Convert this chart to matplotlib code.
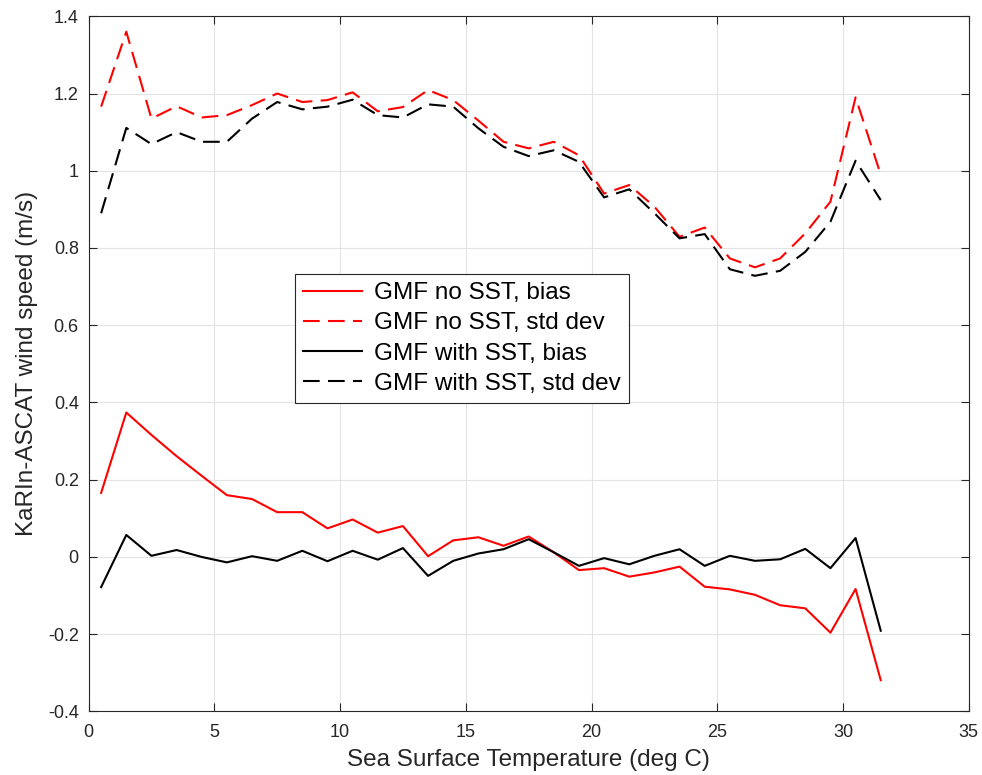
import numpy as np
import matplotlib
matplotlib.use("Agg")
import matplotlib.pyplot as plt

plt.rcParams['font.family'] = ['Liberation Sans', 'DejaVu Sans']

# SST bin centres (deg C)
sst = np.arange(0.5, 32.0, 1.0)

# GMF without SST term
bias_nosst = [0.166, 0.374, 0.316, 0.261, 0.210, 0.160, 0.150, 0.116, 0.116, 0.074,
              0.097, 0.063, 0.080, 0.002, 0.043, 0.051, 0.029, 0.053, 0.012, -0.034,
              -0.029, -0.051, -0.040, -0.025, -0.077, -0.084, -0.098, -0.125, -0.133,
              -0.196, -0.083, -0.319]
std_nosst = [1.166, 1.360, 1.135, 1.167, 1.138, 1.144, 1.170, 1.200, 1.178, 1.183,
             1.203, 1.154, 1.165, 1.209, 1.183, 1.130, 1.075, 1.058, 1.075, 1.040,
             0.941, 0.963, 0.907, 0.829, 0.853, 0.773, 0.750, 0.773, 0.838, 0.920,
             1.190, 0.990]

# GMF with SST term
bias_sst = [-0.078, 0.057, 0.003, 0.018, 0.000, -0.014, 0.002, -0.010, 0.016, -0.011,
            0.016, -0.007, 0.023, -0.049, -0.010, 0.009, 0.020, 0.046, 0.012, -0.023,
            -0.003, -0.019, 0.003, 0.020, -0.023, 0.003, -0.010, -0.006, 0.021,
            -0.029, 0.049, -0.191]
std_sst = [0.890, 1.111, 1.069, 1.100, 1.075, 1.075, 1.135, 1.178, 1.159, 1.166,
           1.184, 1.144, 1.138, 1.172, 1.166, 1.110, 1.062, 1.038, 1.053, 1.023,
           0.931, 0.952, 0.890, 0.825, 0.836, 0.745, 0.728, 0.741, 0.790, 0.868,
           1.026, 0.924]

fig = plt.figure(figsize=(9.82, 7.75), dpi=100)
ax = fig.add_axes([0.0902, 0.082, 0.8963, 0.897])

lw = 1.5
dash = (8, 4)
ax.plot(sst, bias_nosst, color='red', lw=lw, label='GMF no SST, bias')
ax.plot(sst, std_nosst, color='red', lw=lw, dashes=dash, label='GMF no SST, std dev')
ax.plot(sst, bias_sst, color='black', lw=lw, label='GMF with SST, bias')
ax.plot(sst, std_sst, color='black', lw=lw, dashes=dash, label='GMF with SST, std dev')

ax.set_xlim(0, 35)
ax.set_ylim(-0.4, 1.4)
ax.set_xticks(np.arange(0, 36, 5))
ax.set_yticks(np.arange(-0.4, 1.41, 0.2))
ax.set_yticklabels(['-0.4', '-0.2', '0', '0.2', '0.4', '0.6', '0.8', '1', '1.2', '1.4'])

axcol = '#262626'
ax.grid(True, color='#e3e3e3', lw=0.8)
ax.set_axisbelow(True)
ax.tick_params(direction='in', top=True, right=True, length=6, width=0.8,
               colors=axcol, labelsize=13)
ax.tick_params(axis='x', pad=9)
ax.tick_params(axis='y', pad=7)
for s in ax.spines.values():
    s.set_color(axcol)
    s.set_linewidth(0.8)

ax.set_xlabel('Sea Surface Temperature (deg C)', fontsize=17.5, color=axcol, labelpad=6)
ax.set_ylabel('KaRIn-ASCAT wind speed (m/s)', fontsize=17.5, color=axcol, labelpad=7)

leg = ax.legend(loc='lower left', bbox_to_anchor=(0.2345, 0.4436), fontsize=17.5,
                handlelength=2.4, handletextpad=0.5, labelspacing=0.33,
                borderpad=0.35, borderaxespad=0, fancybox=False, framealpha=1)
leg.get_frame().set_edgecolor(axcol)
leg.get_frame().set_linewidth(0.8)

fig.savefig('out.png', dpi=100)
